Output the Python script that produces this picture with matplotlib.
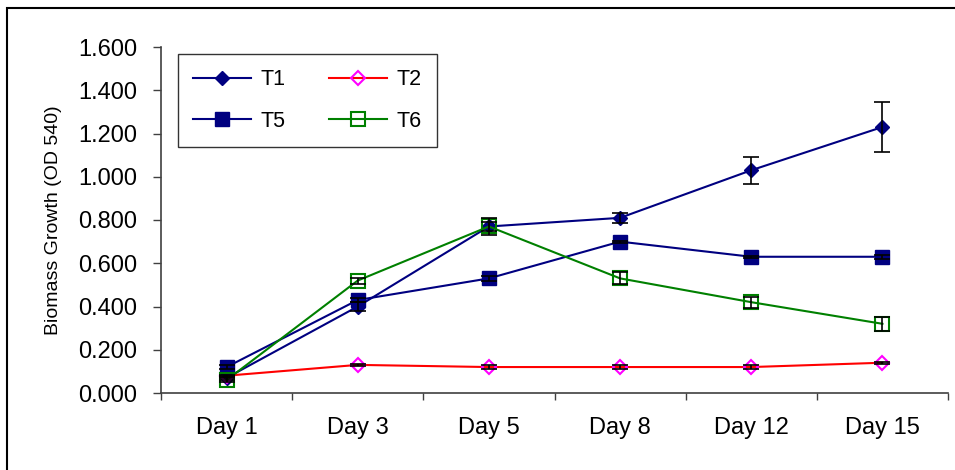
import matplotlib
matplotlib.use("Agg")
import matplotlib.pyplot as plt
from matplotlib.patches import Rectangle
import numpy as np

plt.rcParams['font.family'] = ['Liberation Sans', 'DejaVu Sans']

days = ["Day 1", "Day 3", "Day 5", "Day 8", "Day 12", "Day 15"]

t1 = [0.07, 0.40, 0.77, 0.81, 1.03, 1.23]
t1_err = [0.01, 0.02, 0.04, 0.024, 0.062, 0.117]
t2 = [0.08, 0.13, 0.12, 0.12, 0.12, 0.14]
t2_err = [0.005, 0.005, 0.01, 0.01, 0.01, 0.005]
t5 = [0.12, 0.43, 0.53, 0.70, 0.63, 0.63]
t5_err = [0.01, 0.01, 0.01, 0.005, 0.005, 0.01]
t6 = [0.06, 0.52, 0.77, 0.53, 0.42, 0.32]
t6_err = [0.01, 0.014, 0.02, 0.028, 0.025, 0.033]

W, H = 955, 470
fig = plt.figure(figsize=(W / 100, H / 100), dpi=100)
ax = fig.add_axes([161 / W, (H - 393) / H, (948 - 161) / W, (393 - 47) / H])

x = np.arange(len(days))

series = [
    ("T1", t1, t1_err, dict(color="#000080", marker="D", markersize=7.5,
                             markerfacecolor="#000080", markeredgecolor="#000080")),
    ("T2", t2, t2_err, dict(color="#FF0000", marker="D", markersize=7.5,
                             markerfacecolor="none", markeredgecolor="#FF00FF",
                             markeredgewidth=1.5)),
    ("T5", t5, t5_err, dict(color="#000080", marker="s", markersize=10.5,
                             markerfacecolor="#000080", markeredgecolor="#000080")),
    ("T6", t6, t6_err, dict(color="#008000", marker="s", markersize=9.5,
                             markerfacecolor="none", markeredgecolor="#008000",
                             markeredgewidth=1.5)),
]

handles = {}
for name, vals, err, style in series:
    (h,) = ax.plot(x, vals, linewidth=1.5, label=name, zorder=3, **style)
    handles[name] = h
    ax.errorbar(x, vals, yerr=err, fmt="none", ecolor="black", elinewidth=1.2,
                capsize=5.5, capthick=1.2, zorder=4)

ax.set_xlim(-0.5, len(days) - 0.5)
ax.set_ylim(0, 1.6)
ax.set_yticks(np.arange(0, 1.601, 0.2))
ax.set_yticklabels([f"{v:.3f}" for v in np.arange(0, 1.601, 0.2)])

# category boundaries carry the tick marks, labels sit at category centres
ax.set_xticks(np.arange(-0.5, len(days), 1.0))
ax.set_xticklabels([])
ax.set_xticks(x, minor=True)
ax.set_xticklabels(days, minor=True)
ax.tick_params(axis="x", which="major", direction="out", length=5, width=1, color="#404040")
ax.tick_params(axis="x", which="minor", length=0, pad=17, labelsize=17)
ax.tick_params(axis="y", direction="out", length=6, width=1, color="#404040",
               pad=11, labelsize=17)

for side in ("top", "right"):
    ax.spines[side].set_visible(False)
for side in ("left", "bottom"):
    ax.spines[side].set_color("#404040")
    ax.spines[side].set_linewidth(1.2)

ax.set_ylabel("Biomass Growth (OD 540)", fontsize=14, labelpad=12)

leg = ax.legend([handles["T1"], handles["T5"], handles["T2"], handles["T6"]],
                ["T1", "T5", "T2", "T6"], ncol=2, loc="upper left",
                bbox_to_anchor=(178 / W, (H - 54) / H), bbox_transform=fig.transFigure,
                fontsize=15.5, frameon=True, fancybox=False, edgecolor="black",
                handlelength=2.7, handletextpad=0.45, columnspacing=2.0,
                labelspacing=0.95, borderpad=0.7, borderaxespad=0)
leg.get_frame().set_linewidth(1.0)

fig.add_artist(Rectangle((7 / W, -0.1), 2.0, (H - 8) / H + 0.1,
                         transform=fig.transFigure, fill=False,
                         edgecolor="black", linewidth=1.5))

fig.savefig("out.png", dpi=100)
